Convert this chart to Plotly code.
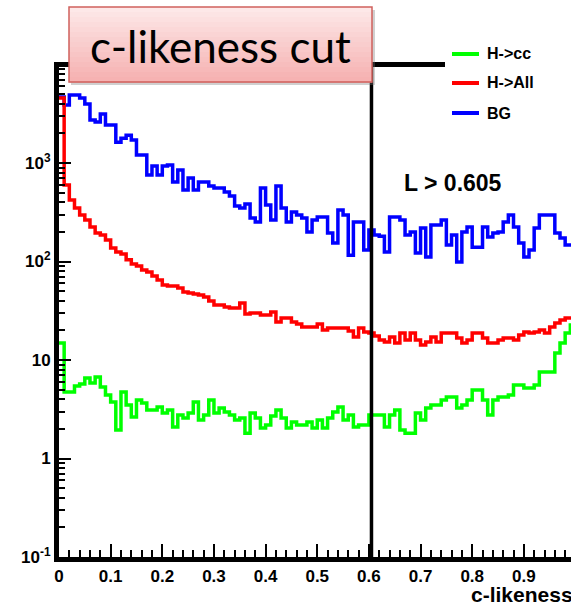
import numpy as np
import plotly.graph_objects as go

# ---------------- data ----------------
N_BINS = 100
X_MIN, X_MAX = 0.0, 1.0
CUT = 0.605

bg = [4680, 3880, 4900, 4900, 4570, 3970, 2730, 2610, 3150, 2430,
      2430, 1630, 1790, 1920, 1710, 1210, 1210, 755, 932, 755,
      932, 954, 641, 849, 532, 704, 532, 641, 641, 584,
      557, 557, 508, 462, 366, 349, 383, 276, 252, 557,
      375, 264, 584, 349, 252, 318, 297, 276, 199, 264,
      283, 283, 195, 154, 333, 297, 116, 252, 252, 131,
      209, 186, 181, 125, 283, 283, 264, 186, 199, 122,
      219, 111, 235, 235, 264, 147, 186, 99, 199, 224,
      140, 140, 224, 177, 195, 199, 252, 297, 224, 154,
      111, 131, 219, 297, 297, 297, 195, 173, 147, 147]

h_all = [4570, 598, 421, 349, 297, 264, 224, 195, 186, 165,
         137, 125, 119, 104, 94.3, 90.0, 82.0, 78.2, 71.3, 64.9,
         57.7, 56.4, 56.4, 53.8, 49.0, 47.9, 46.8, 45.7, 43.6, 39.7,
         36.2, 36.2, 34.5, 33.7, 33.7, 37.9, 29.3, 30.0, 30.0, 28.6,
         28.6, 30.7, 24.3, 26.7, 26.7, 24.3, 23.2, 21.6, 21.6, 21.6,
         23.2, 20.2, 21.1, 21.1, 21.1, 21.1, 19.7, 17.1, 21.1, 19.3,
         18.8, 17.5, 16.0, 15.2, 17.1, 14.9, 18.8, 16.0, 18.8, 16.0,
         14.2, 15.2, 17.1, 15.2, 18.8, 18.8, 18.8, 16.7, 14.9, 16.0,
         18.8, 18.8, 16.7, 14.9, 14.9, 16.0, 16.7, 16.7, 16.0, 17.9,
         19.3, 18.8, 19.3, 20.2, 18.8, 21.6, 23.7, 25.5, 26.7, 26.7]

h_cc = [14.9, 4.73, 4.73, 5.45, 5.71, 6.57, 5.84, 6.72, 5.32, 4.41,
        3.75, 1.95, 4.73, 3.49, 2.64, 3.93, 3.66, 3.11, 3.11, 3.33,
        2.90, 3.11, 2.09, 2.77, 2.58, 2.90, 3.75, 2.46, 2.77, 3.93,
        2.90, 3.26, 2.97, 2.77, 2.46, 2.58, 1.81, 2.90, 2.58, 2.04,
        2.19, 2.70, 3.11, 2.58, 2.04, 2.35, 2.19, 2.19, 2.35, 2.04,
        2.46, 2.04, 2.58, 2.97, 3.33, 2.46, 2.77, 2.09, 2.19, 2.19,
        2.77, 2.77, 2.77, 2.09, 2.77, 3.11, 1.95, 1.81, 1.81, 2.90,
        2.46, 3.26, 3.49, 3.49, 3.93, 4.21, 4.21, 3.26, 3.49, 3.93,
        4.96, 4.96, 3.93, 2.77, 3.93, 4.21, 4.21, 4.41, 5.58, 5.58,
        5.20, 5.20, 5.58, 7.55, 7.55, 7.55, 11.8, 14.9, 18.8, 22.7]

series_names = ["H->cc", "H->All", "BG"]
series_colors = ["#00ff00", "#ff0000", "#0000ff"]

x_tick_vals = [0.0, 0.1, 0.2, 0.3, 0.4, 0.5, 0.6, 0.7, 0.8, 0.9]
x_tick_text = ["0", "0.1", "0.2", "0.3", "0.4", "0.5", "0.6", "0.7", "0.8", "0.9"]
y_tick_vals = [0.1, 1, 10, 100, 1000]
y_tick_text = ["10<sup>-1</sup>", "1", "10", "10<sup>2</sup>", "10<sup>3</sup>"]
y_minor_vals = [m * 10.0 ** e for e in range(-1, 4) for m in range(2, 10)]

TITLE = "c-likeness cut"
X_TITLE = "c-likeness"

# ---------------- layout geometry ----------------
W, H = 571, 604
ML, MR, MT, MB = 59, 0, 67, 47
PW = W - ML - MR
PH = H - MT - MB
X_RANGE_MAX = 0.9913
Y_RANGE = [-1, 3.975]


def px(xp):
    return (xp - ML) / PW


def py(yp):
    return (H - MB - yp) / PH


edges = np.linspace(X_MIN, X_MAX, N_BINS + 1)


def step(vals):
    return list(edges), list(vals) + [vals[-1]]


fig = go.Figure()
for name, vals, col in [("H->cc", h_cc, series_colors[0]),
                        ("BG", bg, series_colors[2]),
                        ("H->All", h_all, series_colors[1])]:
    xs, ys = step(vals)
    fig.add_trace(go.Scatter(x=xs, y=ys, mode="lines", line_shape="hv",
                             line=dict(color=col, width=3.5), name=name,
                             showlegend=False))

tickfont = dict(family="Liberation Sans, Arial, sans-serif", size=17,
                color="black", weight="bold")

fig.update_layout(
    width=W, height=H,
    margin=dict(l=ML, r=MR, t=MT, b=MB, pad=0),
    paper_bgcolor="white", plot_bgcolor="white",
    showlegend=False,
    xaxis=dict(range=[0, X_RANGE_MAX], showgrid=False, zeroline=False,
               showline=True, linewidth=5, linecolor="black", mirror=True,
               ticks="inside", ticklen=13, tickwidth=2, tickcolor="black",
               tickmode="array", tickvals=x_tick_vals, ticktext=x_tick_text,
               tickfont=tickfont, automargin=False,
               minor=dict(ticks="inside", ticklen=7, tickwidth=2,
                          tickcolor="black", dtick=0.02, tick0=0)),
    yaxis=dict(type="log", range=Y_RANGE, showgrid=False, zeroline=False,
               showline=True, linewidth=5, linecolor="black", mirror=False,
               ticks="inside", ticklen=12, tickwidth=2, tickcolor="black",
               tickmode="array", tickvals=y_tick_vals, ticktext=y_tick_text,
               tickfont=tickfont, automargin=False,
               minor=dict(ticks="inside", ticklen=6, tickwidth=2,
                          tickcolor="black", tickmode="array",
                          tickvals=y_minor_vals)),
)

shapes = []
# cut line
shapes.append(dict(type="line", xref="x", yref="paper", x0=CUT, x1=CUT,
                   y0=0, y1=1, line=dict(color="black", width=3.5),
                   layer="above"))
# legend box (white, hides frame)
shapes.append(dict(type="rect", xref="paper", yref="paper",
                   x0=px(445), x1=px(575), y0=py(130), y1=py(30),
                   fillcolor="white", line=dict(width=0), layer="above"))
leg_y = [54, 83, 113]
for yy, col in zip(leg_y, series_colors):
    shapes.append(dict(type="line", xref="paper", yref="paper",
                       x0=px(452), x1=px(479), y0=py(yy), y1=py(yy),
                       line=dict(color=col, width=4), layer="above"))
# title box shadow
shapes.append(dict(type="rect", xref="paper", yref="paper",
                   x0=px(71), x1=px(375), y0=py(85), y1=py(10),
                   fillcolor="rgba(120,120,120,0.35)", line=dict(width=0),
                   layer="above"))
# title box gradient
bx0, bx1, by0, by1 = 69, 372, 7, 82
n_strips = 15
top_c = np.array([253, 232, 232])
bot_c = np.array([246, 178, 178])
for i in range(n_strips):
    t = i / (n_strips - 1)
    c = (top_c * (1 - t) + bot_c * t).astype(int)
    y_a = by0 + (by1 - by0) * i / n_strips
    y_b = by0 + (by1 - by0) * (i + 1) / n_strips
    shapes.append(dict(type="rect", xref="paper", yref="paper",
                       x0=px(bx0), x1=px(bx1), y0=py(y_b + 0.5), y1=py(y_a),
                       fillcolor="rgb(%d,%d,%d)" % tuple(c),
                       line=dict(width=0), layer="above"))
shapes.append(dict(type="rect", xref="paper", yref="paper",
                   x0=px(bx0), x1=px(bx1), y0=py(by1), y1=py(by0),
                   fillcolor="rgba(0,0,0,0)",
                   line=dict(color="#d0605c", width=1.5), layer="above"))
fig.update_layout(shapes=shapes)

ann = []
ann.append(dict(text=TITLE, xref="paper", yref="paper", x=px(220), y=py(46),
                xanchor="center", yanchor="middle", showarrow=False,
                font=dict(family="Lato, Open Sans, sans-serif", size=44,
                          color="black")))
legfont = dict(family="Liberation Sans, Arial, sans-serif", size=16,
               color="black", weight="bold")
for yy, nm in zip(leg_y, series_names):
    ann.append(dict(text=nm, xref="paper", yref="paper", x=px(485), y=py(yy),
                    xanchor="left", yanchor="middle", showarrow=False,
                    font=legfont))
ann.append(dict(text="L > %s" % CUT, xref="paper", yref="paper", x=px(402),
                y=py(183), xanchor="left", yanchor="middle", showarrow=False,
                font=dict(family="Liberation Sans, Arial, sans-serif",
                          size=23, color="black", weight="bold")))
ann.append(dict(text=X_TITLE, xref="paper", yref="paper", x=px(469),
                y=py(594), xanchor="left", yanchor="middle", showarrow=False,
                font=dict(family="Liberation Sans, Arial, sans-serif",
                          size=21, color="black", weight="bold")))
ann.append(dict(text="1", xref="paper", yref="paper",
                x=(1.0 - 0) / X_RANGE_MAX, y=py(570), xanchor="center",
                yanchor="middle", showarrow=False, font=tickfont))
fig.update_layout(annotations=ann)

fig.write_html("out.html",
               config={"displayModeBar": False},
               post_script="document.body.style.margin='0';"
                           "document.body.style.overflow='hidden';")
